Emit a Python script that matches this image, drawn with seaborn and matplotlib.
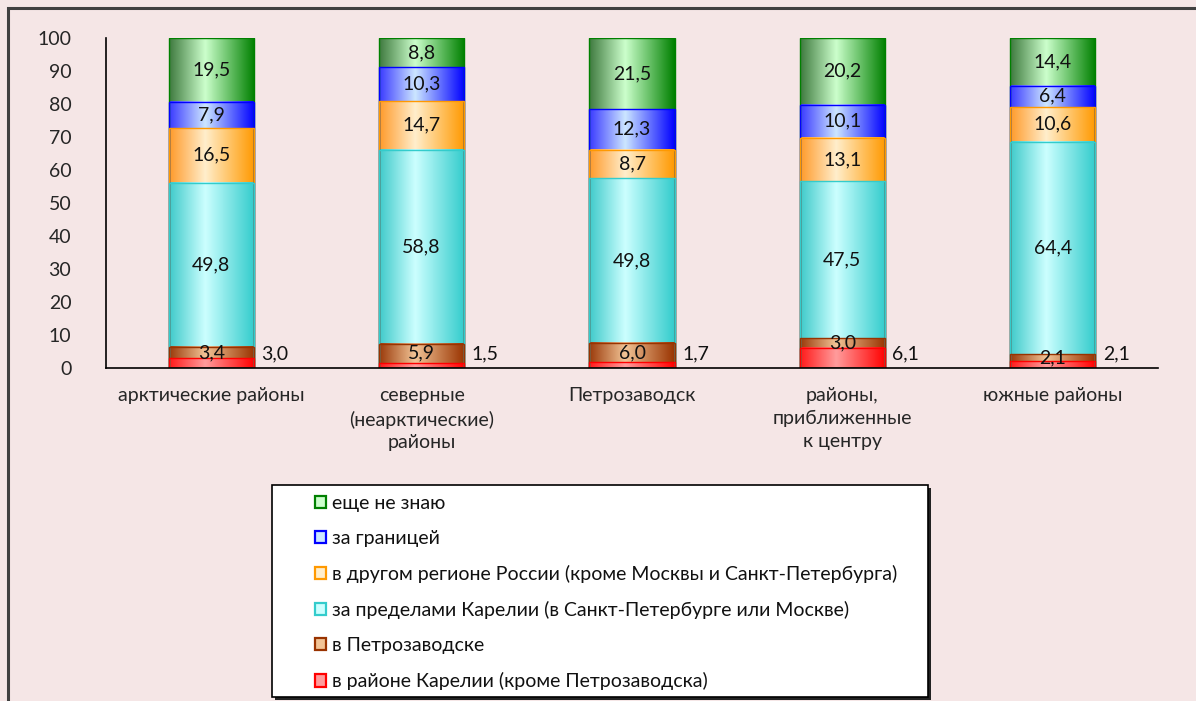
import numpy as np
import pandas as pd
import matplotlib
matplotlib.use("Agg")
import matplotlib.pyplot as plt
import matplotlib.patches as patches
from matplotlib.colors import LinearSegmentedColormap
import seaborn as sns

# ---- data ----
categories = ["арктические районы", "северные\n(неарктические)\nрайоны", "Петрозаводск",
              "районы,\nприближенные\nк центру", "южные районы"]
series_names = ["в районе Карелии (кроме Петрозаводска)",
                "в Петрозаводске",
                "за пределами Карелии (в Санкт-Петербурге или Москве)",
                "в другом регионе России (кроме Москвы и Санкт-Петербурга)",
                "за границей",
                "еще не знаю"]
v_region = [3.0, 1.5, 1.7, 6.1, 2.1]
v_ptz = [3.4, 5.9, 6.0, 3.0, 2.1]
v_outside = [49.8, 58.8, 49.8, 47.5, 64.4]
v_russia = [16.5, 14.7, 8.7, 13.1, 10.6]
v_abroad = [7.9, 10.3, 12.3, 10.1, 6.4]
v_unknown = [19.5, 8.8, 21.5, 20.2, 14.4]
values = [v_region, v_ptz, v_outside, v_russia, v_abroad, v_unknown]

# (left edge, light, right edge) of the gradient fill
grad = [("#ff1a1a", "#ff9c9c", "#ff0000"),
        ("#9a3a0a", "#f2c496", "#993300"),
        ("#3fcaca", "#ccffff", "#33cccc"),
        ("#ff9a2a", "#ffeecc", "#ff9900"),
        ("#3a3aff", "#cce6ff", "#0000ff"),
        ("#3f7a3f", "#ccffcc", "#008000")]

BG = "#f5e6e6"
FONT = ["Lato", "Open Sans", "DejaVu Sans"]
FS = 14

sns.set_style("white")
plt.rcParams["font.family"] = FONT
plt.rcParams["font.size"] = FS
plt.rcParams["text.color"] = "#111111"

fig = plt.figure(figsize=(11.96, 7.01), dpi=100, facecolor=BG)
ax = fig.add_axes([106 / 1196, 1 - 368 / 701, (1158 - 106) / 1196, (368 - 38) / 701])
ax.set_facecolor(BG)

df = pd.DataFrame({"cat": categories})
cum = np.cumsum(np.array(values), axis=0)
# draw from the top series down so that smaller stacks sit on top
for i in range(len(values) - 1, -1, -1):
    df["y"] = cum[i]
    sns.barplot(data=df, x="cat", y="y", color=grad[i][2], saturation=1,
                width=0.405, ax=ax, edgecolor=grad[i][2], linewidth=1.0, zorder=2)

# gradient fill for each segment
nser = len(values)
for k, p in enumerate(ax.patches):
    i = nser - 1 - k // len(categories)
    j = k % len(categories)
    p.set_facecolor("none")
    x0, w = p.get_x(), p.get_width()
    top = min(cum[i][j], 100)
    bot = cum[i][j] - values[i][j]
    cmap = LinearSegmentedColormap.from_list("g%d" % i, [(0, grad[i][0]), (0.42, grad[i][1]), (1, grad[i][2])])
    ax.imshow(np.linspace(0, 1, 128)[None, :], cmap=cmap, aspect="auto",
              extent=[x0, x0 + w, bot, top], zorder=1, interpolation="bilinear")
    # labels
    xc = x0 + w / 2
    if i == 0:
        ax.text(x0 + w + 0.035, 4.4, f"{values[i][j]:.1f}".replace(".", ","),
                ha="left", va="center", zorder=3)
    else:
        ax.text(xc, (bot + top) / 2, f"{values[i][j]:.1f}".replace(".", ","),
                ha="center", va="center", zorder=3)

ax.set_xlim(-0.5, 4.5)
ax.set_ylim(0, 100)
ax.set_yticks(range(0, 101, 10))
ax.set_xlabel("")
ax.set_ylabel("")
ax.set_xticks(range(len(categories)))
ax.set_xticklabels(categories, linespacing=1.4, va="top")
ax.set_xticks(np.arange(-0.5, 5, 1), minor=True)
ax.tick_params(axis="x", which="major", length=0, pad=14)
ax.tick_params(axis="x", which="minor", length=5, width=1.2, direction="out", color="black")
ax.tick_params(axis="y", length=5, width=1.2, direction="out", pad=20, color="black")
for s in ["top", "right"]:
    ax.spines[s].set_visible(False)
for s in ["left", "bottom"]:
    ax.spines[s].set_color("black")
    ax.spines[s].set_linewidth(1.2)
plt.setp(ax.get_yticklabels(), ha="right")

# outer frame
fig.add_artist(patches.Rectangle((8 / 1196, -0.2), 1.5, 1.2 - 8 / 701, transform=fig.transFigure,
                                 fill=False, edgecolor="#404040", linewidth=2.2, clip_on=False))

# legend box with shadow
lx0, ly0, lx1, ly1 = 272, 485, 928, 697
fig.add_artist(patches.Rectangle(((lx0 + 3) / 1196, 1 - (ly1 + 3) / 701), (lx1 - lx0) / 1196,
                                 (ly1 - ly0) / 701, transform=fig.transFigure,
                                 facecolor="#222222", edgecolor="none"))
fig.add_artist(patches.Rectangle((lx0 / 1196, 1 - ly1 / 701), (lx1 - lx0) / 1196,
                                 (ly1 - ly0) / 701, transform=fig.transFigure,
                                 facecolor="white", edgecolor="black", linewidth=1.2))
handles = [patches.Patch(facecolor=grad[i][1], edgecolor=grad[i][2], linewidth=1.6, label=series_names[i])
           for i in range(nser - 1, -1, -1)]
leg = fig.legend(handles=handles, loc="upper left", bbox_to_anchor=(301 / 1196, 1 - 481 / 701),
                 frameon=False, handlelength=0.6, handleheight=0.6, handletextpad=0.3,
                 labelspacing=0.93, borderpad=0.2, fontsize=FS)

fig.savefig("out.png", dpi=100, facecolor=BG)
